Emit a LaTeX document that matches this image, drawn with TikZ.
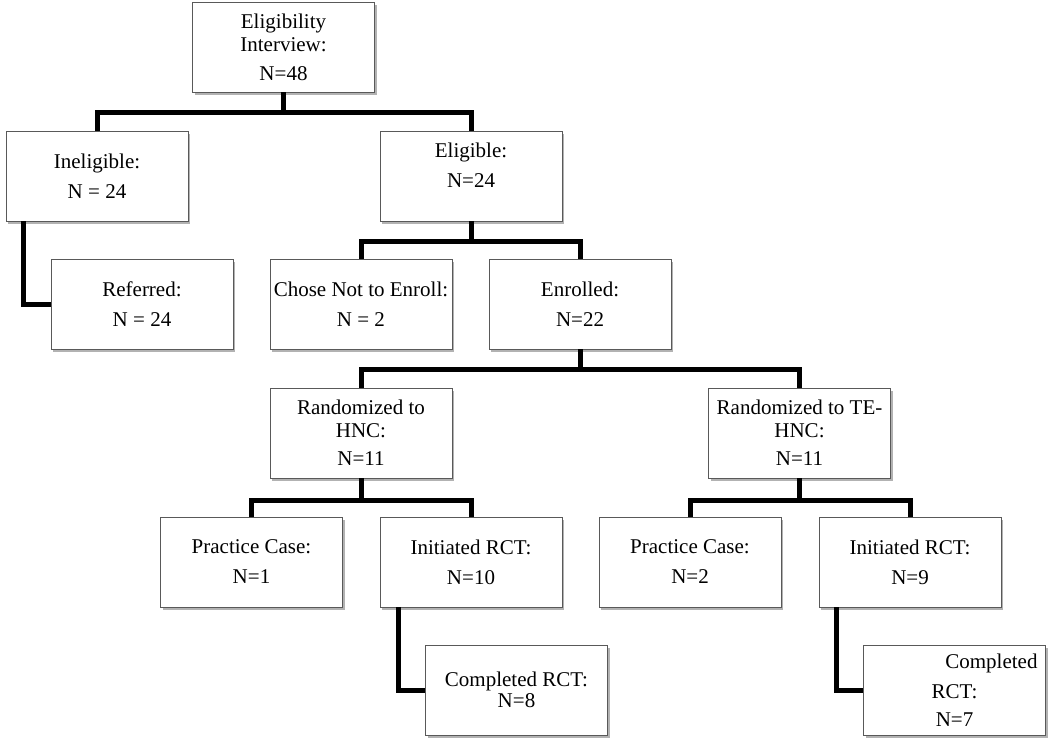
\documentclass[tikz,border=0pt]{standalone}
\usepackage{fontspec}
\setmainfont{Liberation Serif}
\usetikzlibrary{shadows}
\begin{document}
\begin{tikzpicture}[x=1pt,y=-1pt,
  box/.style={draw=black!65, line width=0.9pt, fill=white, minimum width=182pt, minimum height=90pt,
    inner sep=0pt, align=center, font=\fontsize{21}{23}\selectfont,
    drop shadow={shadow xshift=2pt, shadow yshift=-3pt, fill=black, opacity=0.3}},
  conn/.style={line width=5pt, line join=miter, black}]
\useasboundingbox (0,0) rectangle (1050,745);

\node[box] (top)  at (283.5,47)   {Eligibility\\Interview:\\[6pt]N=48};
\node[box] (inel) at (97,176)     {Ineligible:\\[7pt]N = 24};
\node[box] (elig) at (471,176)    {Eligible:\\[7pt]N=24\\[-1pt]\mbox{}};
\node[box] (ref)  at (142,304)    {Referred:\\[7pt]N = 24};
\node[box] (cne)  at (361,304)    {Chose Not to Enroll:\\[7pt]N = 2};
\node[box] (enr)  at (580,304)    {Enrolled:\\[7pt]N=22};
\node[box] (rhnc) at (361,433)    {Randomized to\\HNC:\\[5pt]N=11};
\node[box] (rte)  at (799.5,433)  {Randomized to TE-\\HNC:\\[5pt]N=11};
\node[box] (pc1)  at (251.5,562)  {Practice Case:\\[7pt]N=1};
\node[box] (ini1) at (471,562)    {Initiated RCT:\\[7pt]N=10};
\node[box] (pc2)  at (690,562)    {Practice Case:\\[7pt]N=2};
\node[box] (ini2) at (910,562)    {Initiated RCT:\\[7pt]N=9};
\node[box] (com1) at (516.5,690)  {Completed RCT:\\[-2pt]N=8};
\node[box] (com2) at (954.5,690)  {\makebox[166pt][r]{Completed}\\[7pt]RCT:\\[5pt]N=7};

\coordinate (j1) at (283.5,112);
\coordinate (j2) at (471,241);
\coordinate (j3) at (580,369);
\coordinate (j4) at (361,500);
\coordinate (j5) at (799.5,500);

\draw[conn] (top.south) -- (j1) -| (inel.north);
\draw[conn] (j1) -| (elig.north);
\draw[conn] ([xshift=18pt]inel.south west) |- (ref.west);
\draw[conn] (elig.south) -- (j2) -| (cne.north);
\draw[conn] (j2) -| (enr.north);
\draw[conn] (enr.south) -- (j3) -| (rhnc.north);
\draw[conn] (j3) -| (rte.north);
\draw[conn] (rhnc.south) -- (j4) -| (pc1.north);
\draw[conn] (j4) -| (ini1.north);
\draw[conn] (rte.south) -- (j5) -| (pc2.north);
\draw[conn] (j5) -| (ini2.north);
\draw[conn] ([xshift=19pt]ini1.south west) |- (com1.west);
\draw[conn] ([xshift=18pt]ini2.south west) |- (com2.west);
\end{tikzpicture}
\end{document}
